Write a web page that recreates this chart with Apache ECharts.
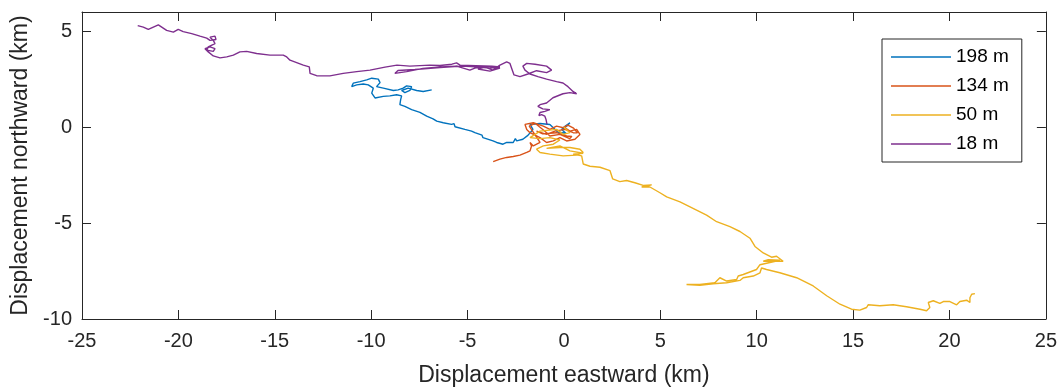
<!DOCTYPE html>
<html>
<head>
<meta charset="utf-8">
<script src="https://cdn.jsdelivr.net/npm/echarts@6/dist/echarts.min.js"></script>
<style>html,body{margin:0;padding:0;background:#fff;}#c{width:1060px;height:392px;}</style>
</head>
<body>
<div id="c"></div>
<script>
// Axis ticks
const xTicks = [-25, -20, -15, -10, -5, 0, 5, 10, 15, 20, 25];
const yTicks = [-10, -5, 0, 5];
const seriesNames = ['198 m', '134 m', '50 m', '18 m'];

// Progressive vector paths, [east km, north km]
const path198 = [
  [0,0],[0.31,0.23],[0.14,0.05],[-0.12,-0.12],[0.10,-0.32],[-0.31,-0.27],[-0.73,0.14],[-1.24,0.19],
  [-1.76,0.14],[-1.61,-0.12],[-1.87,-0.43],[-2.13,-0.63],[-2.45,-0.72],[-2.52,-0.60],[-2.63,-0.80],[-2.97,-0.80],
  [-3.16,-0.89],[-3.49,-0.80],[-3.68,-0.72],[-4.20,-0.55],[-4.25,-0.42],[-4.62,-0.29],[-4.79,-0.21],[-5.14,-0.12],
  [-5.65,0.02],[-5.70,0.18],[-5.83,0.14],[-6.26,0.23],[-6.60,0.31],[-6.79,0.43],[-7.12,0.57],[-7.47,0.77],
  [-7.90,0.91],[-8.25,1.08],[-8.51,1.17],[-8.47,1.43],[-8.42,1.63],[-8.68,1.69],[-9.03,1.63],
  [-9.37,1.60],[-9.80,1.52],[-9.97,1.77],[-9.89,2.03],[-10.15,2.20],[-10.41,2.25],[-10.75,2.20],
  [-11.01,2.11],[-10.93,2.29],[-10.58,2.37],[-10.23,2.46],[-9.97,2.55],[-9.63,2.50],[-9.54,2.32],
  [-9.72,2.11],[-9.37,2.03],[-8.85,1.91],[-8.60,1.94],[-8.34,2.03],[-8.16,2.15],[-7.90,2.11],
  [-7.99,1.91],[-8.25,1.80],[-8.42,1.91],[-8.08,2.03],[-7.64,1.91],[-7.30,1.86],[-6.86,1.94]
];
const path134 = [
  [0,0],[0.31,-0.21],[0.66,-0.12],[0.83,-0.38],[0.57,-0.63],[0.14,-0.72],[-0.21,-0.55],[-0.55,-0.72],
  [-0.90,-0.80],[-1.24,-0.55],[-1.76,-0.29],[-1.93,-0.12],[-2.02,0.14],[-1.59,0.23],[-1.07,0.05],
  [-0.73,-0.12],[-0.38,0.05],[-0.04,-0.03],[0.20,0.10],[0.50,-0.05],[0.70,-0.30],[0.48,-0.29],
  [0.05,-0.12],[-0.47,-0.21],[-0.90,-0.38],[-1.42,-0.21],[-1.10,-0.35],[-0.38,-0.29],[0.14,-0.46],
  [0.41,-0.48],[0.30,-0.60],[-0.21,-0.38],[-0.73,-0.46],[-1.00,-0.20],[-1.50,0.20],[-1.80,0.05],
  [-1.24,-0.80],[-1.59,-0.98],[-1.76,-0.80],[-1.68,-0.98],[-1.76,-1.24],[-1.93,-1.32],[-2.28,-1.46],
  [-2.63,-1.53],[-2.97,-1.58],[-3.32,-1.67],[-3.67,-1.80]
];
const path50 = [
  [0,0],[0.31,-0.29],[-0.04,-0.38],[-0.38,-0.12],[-1.24,-0.21],[-1.76,-0.55],[-1.24,-0.60],
  [-0.73,-0.55],[-0.21,-0.67],[-0.55,-0.89],[-1.07,-0.98],[-1.42,-1.15],[-1.24,-1.32],[-0.73,-1.41],
  [-0.04,-1.50],[0.66,-1.46],[1.00,-1.32],[0.83,-1.15],[0.31,-1.06],[-0.21,-1.06],[-0.90,-1.11],
  [-0.21,-0.98],[0.31,-1.24],[1.00,-1.36],[0.48,-1.41],[0.92,-1.50],[1.00,-1.92],[1.35,-2.04],
  [1.87,-2.09],[2.39,-2.27],[2.53,-2.70],[2.90,-2.84],[3.25,-2.78],[3.68,-2.90],[4.11,-3.04],
  [4.55,-3.01],[4.03,-3.12],[4.46,-3.12],[4.98,-3.42],[5.33,-3.64],[6.02,-3.90],[6.88,-4.33],
  [7.40,-4.59],[7.92,-4.93],[8.61,-5.19],[9.13,-5.44],[9.65,-5.79],[9.91,-6.22],[10.34,-6.56],
  [10.77,-6.78],[11.03,-6.73],[11.37,-6.99],[10.86,-6.99],[10.34,-6.99],[10.60,-6.91],[11.20,-6.94],
  [10.17,-7.17],[9.99,-7.42],[9.30,-7.68],[9.04,-7.76],[8.96,-7.94],[8.44,-8.02],[8.09,-7.85],
  [7.83,-8.11],[7.05,-8.20],[6.36,-8.20],[7.05,-8.25],[7.74,-8.16],[8.44,-8.11],[9.13,-7.99],
  [9.30,-7.85],[9.82,-7.76],[10.17,-7.59],[10.25,-7.34],[10.51,-7.42],[11.20,-7.59],[12.07,-7.85],
  [12.93,-8.28],[13.63,-8.79],[14.32,-9.23],[14.92,-9.49],[15.35,-9.54],[15.70,-9.40],[15.78,-9.26],
  [16.39,-9.31],[17.08,-9.26],[17.77,-9.36],[18.47,-9.49],[18.81,-9.57],[18.98,-9.40],[18.90,-9.14],
  [19.16,-9.05],[19.50,-9.19],[19.68,-9.09],[20.02,-9.09],[20.37,-9.26],[20.54,-9.09],[20.89,-9.02],
  [21.06,-9.14],[21.06,-8.89],[21.15,-8.71],[21.23,-8.62],[21.32,-8.68]
];
const path18 = [
  [-0.88,0.14],[-0.93,0.40],[-0.99,0.57],[-1.16,0.65],[-1.30,0.60],[-1.24,0.76],[-0.99,0.82],
  [-0.73,0.91],[-1.10,0.95],[-1.35,1.08],[-1.24,1.17],[-0.90,1.26],[-0.57,1.53],[-0.05,1.74],
  [0.31,1.80],[0.66,1.74],[0.47,1.86],[0.21,2.11],[-0.05,2.30],[-0.38,2.37],[-0.90,2.50],
  [-1.35,2.63],[-1.76,2.77],[-2.02,2.97],[-2.13,3.18],[-1.93,3.32],[-1.50,3.28],[-0.90,3.18],
  [-0.64,2.97],[-0.90,2.84],[-1.42,2.94],[-1.87,2.77],[-2.28,2.63],[-2.59,2.72],[-2.71,3.06],
  [-2.80,3.32],[-2.97,3.40],[-3.32,3.23],[-3.68,2.97],[-4.10,3.13],[-4.46,3.03],[-3.84,2.92],
  [-3.32,3.08],[-3.94,3.18],[-4.62,3.08],[-4.88,2.97],[-5.57,3.18],[-6.43,3.13],[-7.31,3.06],
  [-8.16,2.89],[-8.77,2.80],[-8.82,2.90],[-8.61,2.95],[-7.73,3.00],[-6.43,3.10],[-5.29,3.18],
  [-4.62,3.15],[-3.84,3.08],[-3.32,3.13],[-3.73,3.18],[-5.39,3.23],[-5.57,3.35],[-5.81,3.28],
  [-6.43,3.21],[-6.95,3.23],[-7.99,3.18],[-8.66,3.23],[-9.28,3.13],[-10.06,2.97],[-10.75,2.89],
  [-11.45,2.80],[-12.14,2.67],[-12.83,2.68],[-13.17,2.80],[-13.21,3.14],[-13.52,3.23],[-14.21,3.49],
  [-14.38,3.66],[-14.56,3.75],[-15.25,3.75],[-15.94,3.84],[-16.46,3.95],[-16.81,3.92],[-17.15,3.75],
  [-17.49,3.66],[-17.84,3.61],[-18.19,3.71],[-18.45,3.92],[-18.62,4.09],[-18.36,4.18],[-18.10,4.09],
  [-18.19,3.95],[-18.53,4.01],[-18.45,4.18],[-18.10,4.35],[-18.19,4.52],[-18.36,4.69],[-18.10,4.74],
  [-18.05,4.57],[-18.36,4.52],[-18.53,4.64],[-18.88,4.74],[-19.31,4.87],[-19.75,4.98],[-20.01,5.09],
  [-20.26,4.95],[-20.61,5.04],[-21.04,5.33],[-21.30,5.21],[-21.56,5.09],[-21.82,5.21],[-22.11,5.29]
];

const paths = [path198, path134, path50, path18];
const colors = ['#0072BD', '#D95319', '#EDB120', '#7E2F8E'];

const FONT = "'Liberation Sans', Arial, Helvetica, sans-serif";
const AX = '#262626';

function xAx(pos, show) {
  return {
    type: 'value', position: pos, min: xTicks[0], max: xTicks[xTicks.length - 1], interval: 5,
    axisLine: { show: true, onZero: false, lineStyle: { color: AX, width: 1 } },
    axisTick: { show: true, inside: true, length: 9, lineStyle: { color: AX } },
    axisLabel: { show: show, margin: 12, color: AX, fontSize: 20, fontFamily: FONT },
    splitLine: { show: false },
    name: show ? 'Displacement eastward (km)' : '', nameLocation: 'middle', nameGap: 45,
    nameTextStyle: { color: AX, fontSize: 23, fontFamily: FONT }
  };
}
function yAx(pos, show) {
  return {
    type: 'value', position: pos, min: -10, max: 6, interval: 5,
    axisLine: { show: true, onZero: false, lineStyle: { color: AX, width: 1 } },
    axisTick: { show: true, inside: true, length: 9, lineStyle: { color: AX }, customValues: yTicks },
    axisLabel: { show: show, margin: 10, color: AX, fontSize: 20, fontFamily: FONT, customValues: yTicks },
    splitLine: { show: false },
    name: show ? 'Displacement northward (km)' : '', nameLocation: 'middle', nameGap: 48,
    nameTextStyle: { color: AX, fontSize: 23, fontFamily: FONT }
  };
}

const chart = echarts.init(document.getElementById('c'), null, { renderer: 'canvas' });
chart.setOption({
  animation: false,
  backgroundColor: '#fff',
  grid: { left: 82, right: 14, top: 12, bottom: 70, containLabel: false },
  xAxis: [xAx('bottom', true), xAx('top', false)],
  yAxis: [yAx('left', true), yAx('right', false)],
  legend: {
    orient: 'vertical', left: 882, top: 39,
    padding: [8, 13, 8, 9], itemGap: 9, itemWidth: 60, itemHeight: 1.5,
    backgroundColor: '#fff', borderColor: '#262626', borderWidth: 1,
    textStyle: { color: '#000', fontSize: 19, lineHeight: 20, fontFamily: FONT },
    data: seriesNames.map(n => ({ name: n, icon: 'rect' }))
  },
  series: paths.map((p, i) => ({
    name: seriesNames[i], type: 'line', xAxisIndex: 0, yAxisIndex: 0,
    data: p, symbol: 'none', smooth: false,
    lineStyle: { color: colors[i], width: 1.4 }, itemStyle: { color: colors[i] }
  }))
});
</script>
</body>
</html>
